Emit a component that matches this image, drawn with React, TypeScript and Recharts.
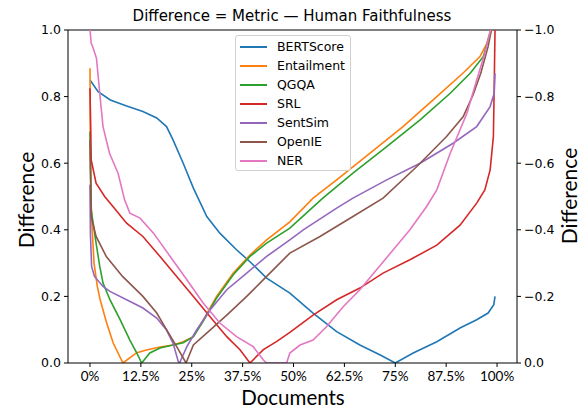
import { LineChart, Line, XAxis, YAxis, Legend, ReferenceLine } from 'recharts';

// percent of documents (x) vs. difference (y)
const bertScore: [number, number][] = [
  [0, 0.85], [2, 0.815], [5, 0.79], [9, 0.772], [13, 0.755], [16.4, 0.736], [18.8, 0.71],
  [20.4, 0.67], [22.9, 0.6], [25.4, 0.525], [28.7, 0.44], [31.9, 0.39], [36, 0.34],
  [39.3, 0.304], [43.4, 0.255], [49.1, 0.21], [54.8, 0.15], [60.6, 0.094], [66.3, 0.054],
  [71.3, 0.024], [75, 0], [79.4, 0.03], [85.2, 0.064], [90.9, 0.105], [95, 0.13],
  [97.8, 0.15], [99.2, 0.175], [99.5, 0.2],
];
const entailment: [number, number][] = [
  [0, 0.885], [0.2, 0.51], [0.5, 0.41], [1, 0.3], [1.8, 0.23], [2.5, 0.19], [4.1, 0.12],
  [5.7, 0.06], [8.1, 0], [11.5, 0.031], [13.9, 0.039], [17.2, 0.048], [20.4, 0.054],
  [22.9, 0.064], [25.4, 0.079], [27.8, 0.129], [31.1, 0.2], [35.2, 0.27], [39.3, 0.324],
  [43.4, 0.37], [49.1, 0.424], [54.8, 0.495], [60.6, 0.55], [68.8, 0.63], [76.9, 0.71],
  [85.2, 0.8], [91.6, 0.87], [95.8, 0.92], [97.5, 0.96], [98.3, 0.995], [98.6, 1.0],
];
const qgqa: [number, number][] = [
  [0, 0.695], [0.3, 0.46], [1.5, 0.36], [2.4, 0.29], [3.2, 0.24], [4.9, 0.19], [7.4, 0.13],
  [9.8, 0.069], [11.5, 0.03], [12.7, 0], [14.7, 0.03], [17.2, 0.045], [20.4, 0.054],
  [22.9, 0.061], [25.4, 0.079], [27.8, 0.125], [31.1, 0.195], [35.2, 0.265], [39.3, 0.32],
  [43.4, 0.36], [49.1, 0.405], [57.2, 0.495], [64.6, 0.57], [72.9, 0.65], [81.1, 0.73],
  [88.5, 0.81], [93.4, 0.87], [96.6, 0.92], [98.3, 0.99], [98.6, 1.0],
];
const srl: [number, number][] = [
  [0, 0.825], [0.3, 0.61], [1.5, 0.54], [3.6, 0.5], [6, 0.465], [9, 0.42], [13, 0.38],
  [17.2, 0.32], [21.3, 0.26], [25.4, 0.2], [29.5, 0.139], [33.6, 0.079], [36.9, 0.039],
  [39.3, 0], [42.6, 0.04], [45.9, 0.065], [49.1, 0.092], [54.8, 0.144], [60.6, 0.19],
  [66.3, 0.225], [72, 0.27], [78.6, 0.31], [85.2, 0.354], [90.9, 0.414], [95, 0.48],
  [97, 0.52], [98.3, 0.58], [99.1, 0.68], [99.3, 0.83], [99.5, 1.0],
];
const sentSim: [number, number][] = [
  [0, 0.535], [0.1, 0.39], [0.4, 0.29], [1.1, 0.26], [3.2, 0.23], [4.9, 0.215], [9, 0.19],
  [13, 0.165], [16.4, 0.135], [18.8, 0.099], [20.4, 0.06], [21.7, 0.004], [22, 0],
  [23.8, 0.049], [26.2, 0.099], [29.5, 0.159], [33.6, 0.22], [38.5, 0.27], [43.4, 0.32],
  [49.1, 0.37], [52.4, 0.4], [60.6, 0.465], [64.6, 0.495], [72.9, 0.55], [81.1, 0.6],
  [89.2, 0.66], [95, 0.71], [98.3, 0.77], [99.3, 0.81], [99.5, 0.87],
];
const openIE: [number, number][] = [
  [0, 0.67], [0.3, 0.44], [1.5, 0.38], [4, 0.32], [8, 0.26], [13, 0.2], [16.4, 0.15],
  [18.8, 0.1], [21.3, 0.049], [23.6, 0], [25.4, 0.054], [29.5, 0.099], [33.6, 0.144],
  [38.5, 0.2], [43.4, 0.26], [49.1, 0.33], [56.5, 0.38], [64.6, 0.44], [72, 0.495],
  [80.3, 0.59], [87.6, 0.68], [91.7, 0.74], [94.1, 0.805], [96, 0.87], [97.8, 0.95],
  [98.6, 1.0],
];
const ner: [number, number][] = [
  [0, 1.0], [0.3, 0.96], [0.8, 0.945], [1.6, 0.915], [2.4, 0.81], [3.2, 0.71], [4.8, 0.63],
  [6.9, 0.57], [8.5, 0.49], [9.8, 0.45], [12.3, 0.435], [15.6, 0.39], [19.7, 0.32],
  [23.8, 0.25], [27.8, 0.18], [31.9, 0.12], [36, 0.079], [40.1, 0.049], [42.6, 0.009],
  [43.4, 0], [48.3, 0], [49.1, 0.03], [51.6, 0.054], [54.8, 0.069], [58.1, 0.109],
  [62.2, 0.169], [66.3, 0.22], [70.4, 0.28], [74.5, 0.34], [78.6, 0.4], [82.7, 0.47],
  [85.2, 0.52], [88.5, 0.63], [92.6, 0.75], [95, 0.85], [97, 0.93], [98.3, 0.995], [98.5, 1.0],
];

const xTicks = [0, 12.5, 25, 37.5, 50, 62.5, 75, 87.5, 100];
const leftTicks = [0, 0.2, 0.4, 0.6, 0.8, 1.0];
const rightTicks = [-1.0, -0.8, -0.6, -0.4, -0.2, 0];

const series = [
  { name: 'BERTScore', color: '#1f77b4', points: bertScore },
  { name: 'Entailment', color: '#ff7f0e', points: entailment },
  { name: 'QGQA', color: '#2ca02c', points: qgqa },
  { name: 'SRL', color: '#d62728', points: srl },
  { name: 'SentSim', color: '#9467bd', points: sentSim },
  { name: 'OpenIE', color: '#8c564b', points: openIE },
  { name: 'NER', color: '#e377c2', points: ner },
];

const mpl = 'DejaVu Sans';
const calibri = 'Lato';

const LegendBox = () => (
  <div
    style={{
      border: '1px solid #d0d0d0',
      borderRadius: 3,
      background: 'rgba(255,255,255,0.8)',
      padding: '1px 5px 0px 4px',
      fontFamily: mpl,
      fontSize: 12.5,
      color: '#000',
    }}
  >
    {series.map((s) => (
      <div key={s.name} style={{ display: 'flex', alignItems: 'center', height: 19 }}>
        <svg width={27} height={4} style={{ marginRight: 10 }}>
          <line x1={0} y1={2} x2={27} y2={2} stroke={s.color} strokeWidth={2} />
        </svg>
        <span>{s.name}</span>
      </div>
    ))}
  </div>
);

export default function App() {
  return (
    <div style={{ position: 'fixed', left: 0, top: 0, width: 580, height: 408, background: '#fff' }}>
      <LineChart width={580} height={408} margin={{ top: 30, right: 0, bottom: 0, left: 0 }}>
        <XAxis
          type="number"
          dataKey="x"
          domain={[-5.4, 104.9]}
          allowDataOverflow
          ticks={xTicks}
          interval={0}
          tickFormatter={(v: number) => `${v}%`}
          height={45}
          tickSize={4}
          tickMargin={4}
          stroke="#000"
          tick={{ fontSize: 13.5, fill: '#000', fontFamily: calibri }}
          label={{
            content: () => (
              <g>
                <text x={293} y={405} textAnchor="middle" fontSize={20.5} fontFamily={calibri} fill="#000">
                  Documents
                </text>
                <text x={292} y={21} textAnchor="middle" fontSize={15} fontFamily={mpl} fill="#000">
                  Difference = Metric — Human Faithfulness
                </text>
              </g>
            ),
          }}
        />
        <YAxis
          yAxisId="left"
          type="number"
          domain={[0, 1]}
          allowDataOverflow
          ticks={leftTicks}
          interval={0}
          tickFormatter={(v: number) => v.toFixed(1)}
          width={68}
          tickSize={4}
          tickMargin={3}
          stroke="#000"
          tick={{ fontSize: 12.5, fill: '#000', fontFamily: mpl }}
          label={{
            content: () => (
              <text
                x={25}
                y={200}
                transform="rotate(-90 25 200)"
                textAnchor="middle"
                dominantBaseline="central"
                fontSize={21}
                fontFamily={calibri}
                fill="#000"
              >
                Difference
              </text>
            ),
          }}
        />
        <YAxis
          yAxisId="right"
          orientation="right"
          type="number"
          domain={[-1, 0]}
          allowDataOverflow
          reversed
          ticks={rightTicks}
          interval={0}
          tickFormatter={(v: number) => (v === 0 ? '0.0' : `\u2212${Math.abs(v).toFixed(1)}`)}
          width={63}
          tickSize={4}
          tickMargin={3}
          stroke="#000"
          tick={{ fontSize: 12.5, fill: '#000', fontFamily: mpl }}
          label={{
            content: () => (
              <text
                x={568}
                y={196}
                transform="rotate(-90 568 196)"
                textAnchor="middle"
                dominantBaseline="central"
                fontSize={21}
                fontFamily={calibri}
                fill="#000"
              >
                Difference
              </text>
            ),
          }}
        />
        <ReferenceLine yAxisId="left" y={1} stroke="#000" strokeWidth={1} ifOverflow="visible" />
        <Legend
          layout="vertical"
          align="center"
          verticalAlign="middle"
          content={() => <LegendBox />}
          wrapperStyle={{ left: 235, top: 35, width: 'auto' }}
        />
        {/* invisible mirror so the secondary axis gets its ticks */}
        <Line
          yAxisId="right"
          data={rightTicks.map((y) => ({ x: 0, y }))}
          dataKey="y"
          stroke="none"
          dot={false}
          activeDot={false}
          legendType="none"
          isAnimationActive={false}
        />
        {series.map((s) => (
          <Line
            key={s.name}
            yAxisId="left"
            name={s.name}
            data={s.points.map(([x, y]) => ({ x, y }))}
            dataKey="y"
            type="linear"
            stroke={s.color}
            strokeWidth={1.6}
            dot={false}
            activeDot={false}
            isAnimationActive={false}
          />
        ))}
      </LineChart>
    </div>
  );
}
